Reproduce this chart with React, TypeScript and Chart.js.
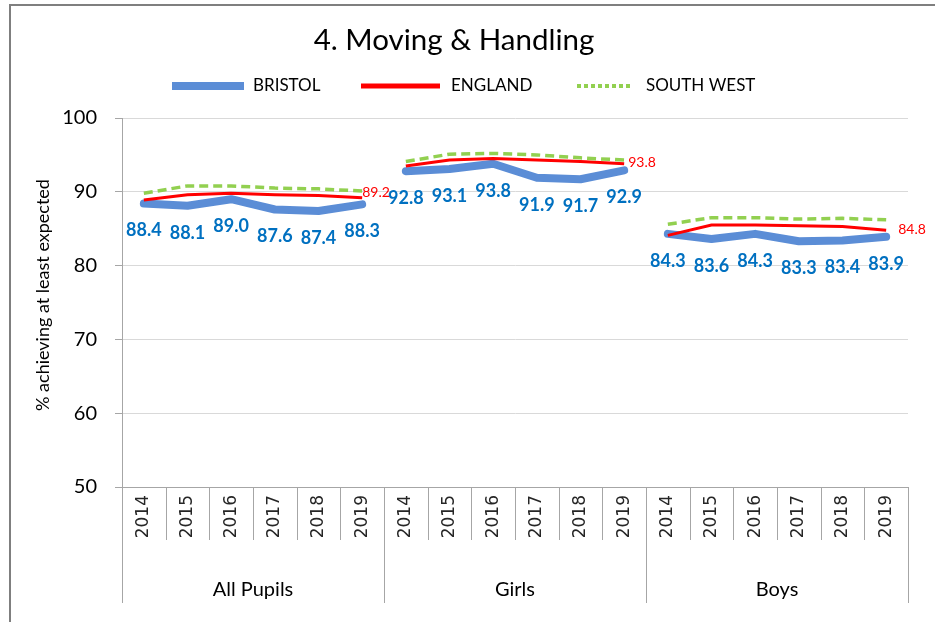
import React, { useEffect, useRef } from 'react';
import { Chart, registerables } from 'chart.js';

Chart.register(...registerables);

// ---- data ----
const GROUPS = ['All Pupils', 'Girls', 'Boys'];
const YEARS = ['2014', '2015', '2016', '2017', '2018', '2019'];

const BRISTOL_ALL = [88.4, 88.1, 89.0, 87.6, 87.4, 88.3];
const BRISTOL_GIRLS = [92.8, 93.1, 93.8, 91.9, 91.7, 92.9];
const BRISTOL_BOYS = [84.3, 83.6, 84.3, 83.3, 83.4, 83.9];

const ENGLAND_ALL = [88.9, 89.6, 89.8, 89.6, 89.5, 89.2];
const ENGLAND_GIRLS = [93.5, 94.3, 94.5, 94.3, 94.1, 93.8];
const ENGLAND_BOYS = [84.1, 85.5, 85.5, 85.4, 85.3, 84.8];

const SW_ALL = [89.8, 90.8, 90.8, 90.5, 90.4, 90.1];
const SW_GIRLS = [94.1, 95.1, 95.2, 95.0, 94.6, 94.3];
const SW_BOYS = [85.6, 86.5, 86.5, 86.3, 86.4, 86.2];

const SERIES_NAMES = ['BRISTOL', 'ENGLAND', 'SOUTH WEST'];
const Y_MIN = 50;
const Y_MAX = 100;
const Y_STEP = 10;

const TITLE = '4. Moving & Handling';
const Y_TITLE = '% achieving at least expected';

const CATEGORIES = GROUPS.flatMap(() => YEARS);
const GROUP_SIZE = YEARS.length;

const BLUE = '#5B8DD6';
const RED = '#FF0000';
const GREEN = '#92D050';
const LABEL_BLUE = '#0070C0';

const breakBetweenGroups = (c: any) =>
  c.p0DataIndex % GROUP_SIZE === GROUP_SIZE - 1 ? 'rgba(0,0,0,0)' : undefined;

const decorPlugin = {
  id: 'decor',
  beforeDraw(chart: any) {
    const ctx = chart.ctx;
    ctx.save();
    ctx.fillStyle = '#ffffff';
    ctx.fillRect(0, 0, chart.width, chart.height);
    ctx.fillStyle = '#7f7f7f';
    ctx.fillRect(9, 4, chart.width - 9, 2);
    ctx.fillRect(9, 4, 2, chart.height - 4);
    ctx.restore();
  },
  afterDraw(chart: any) {
    const ctx = chart.ctx;
    const x = chart.scales.x;
    const area = chart.chartArea;
    const n = CATEGORIES.length;
    const step = (x.right - x.left) / n;
    const boundary = (i: number) => x.left + i * step;

    ctx.save();
    // y axis title
    ctx.save();
    ctx.translate(43, area.top + 177);
    ctx.rotate(-Math.PI / 2);
    ctx.fillStyle = '#000000';
    ctx.font = '18px Lato';
    ctx.textAlign = 'center';
    ctx.textBaseline = 'middle';
    ctx.fillText(Y_TITLE, 0, 0);
    ctx.restore();

    // category ticks and group separators below the axis
    ctx.strokeStyle = '#a6a6a6';
    ctx.lineWidth = 1;
    for (let i = 0; i <= n; i++) {
      const bx = Math.round(boundary(i)) + 0.5;
      const isGroup = i % GROUP_SIZE === 0;
      ctx.beginPath();
      ctx.moveTo(bx, area.bottom);
      ctx.lineTo(bx, isGroup ? area.bottom + 116 : area.bottom + 53);
      ctx.stroke();
    }
    // group labels
    ctx.fillStyle = '#000000';
    ctx.font = '20px Lato';
    ctx.textAlign = 'center';
    ctx.textBaseline = 'middle';
    GROUPS.forEach((g, gi) => {
      const cx = (boundary(gi * GROUP_SIZE) + boundary((gi + 1) * GROUP_SIZE)) / 2;
      ctx.fillText(g, cx, area.bottom + 103);
    });

    // legend
    const legendY = 86;
    const items = [
      { ds: 0, x1: 172, x2: 244, tx: 253 },
      { ds: 1, x1: 361, x2: 440, tx: 451 },
      { ds: 2, x1: 577, x2: 633, tx: 646 },
    ];
    const legendWidths = [8, 5, 4];
    const legendDash = [[], [], [4, 3]];
    items.forEach((it, k) => {
      const ds = chart.data.datasets[it.ds];
      ctx.beginPath();
      ctx.strokeStyle = ds.borderColor;
      ctx.lineWidth = legendWidths[k];
      ctx.setLineDash(legendDash[k]);
      ctx.lineCap = 'butt';
      ctx.moveTo(it.x1, legendY);
      ctx.lineTo(it.x2, legendY);
      ctx.stroke();
      ctx.setLineDash([]);
      ctx.fillStyle = '#000000';
      ctx.font = '17px Lato';
      ctx.textAlign = 'left';
      ctx.textBaseline = 'middle';
      ctx.fillText(ds.label, it.tx, legendY);
    });

    // data labels for BRISTOL (below each point)
    const m0 = chart.getDatasetMeta(0);
    ctx.fillStyle = LABEL_BLUE;
    ctx.font = 'bold 18px Lato';
    ctx.textAlign = 'center';
    ctx.textBaseline = 'middle';
    m0.data.forEach((pt: any, i: number) => {
      const v = chart.data.datasets[0].data[i];
      ctx.fillText(v.toFixed(1), pt.x, pt.y + 27);
    });
    // ENGLAND value at the last year of each group
    const m1 = chart.getDatasetMeta(1);
    const offs = [
      [0, -5],
      [4, -1],
      [12, -1],
    ];
    ctx.fillStyle = RED;
    ctx.font = '14px Lato';
    ctx.textAlign = 'left';
    GROUPS.forEach((_, gi) => {
      const idx = gi * GROUP_SIZE + GROUP_SIZE - 1;
      const pt = m1.data[idx];
      const v = chart.data.datasets[1].data[idx];
      ctx.fillText(v.toFixed(1), pt.x + offs[gi][0], pt.y + offs[gi][1]);
    });
    ctx.restore();
  },
};

export default function App() {
  const ref = useRef<HTMLCanvasElement | null>(null);
  useEffect(() => {
    if (!ref.current) return;
    Chart.defaults.font.family = 'Lato';
    const chart = new Chart(ref.current, {
      type: 'line',
      data: {
        labels: CATEGORIES,
        datasets: [
          {
            label: SERIES_NAMES[0],
            data: [...BRISTOL_ALL, ...BRISTOL_GIRLS, ...BRISTOL_BOYS],
            borderColor: BLUE,
            backgroundColor: BLUE,
            borderWidth: 8,
            borderJoinStyle: 'round',
            borderCapStyle: 'round',
            pointRadius: 0,
            tension: 0,
            segment: { borderColor: breakBetweenGroups },
            order: 3,
          },
          {
            label: SERIES_NAMES[1],
            data: [...ENGLAND_ALL, ...ENGLAND_GIRLS, ...ENGLAND_BOYS],
            borderColor: RED,
            backgroundColor: RED,
            borderWidth: 3,
            pointRadius: 0,
            tension: 0,
            segment: { borderColor: breakBetweenGroups },
            order: 2,
          },
          {
            label: SERIES_NAMES[2],
            data: [...SW_ALL, ...SW_GIRLS, ...SW_BOYS],
            borderColor: GREEN,
            backgroundColor: GREEN,
            borderWidth: 3.5,
            borderDash: [9, 5],
            pointRadius: 0,
            tension: 0,
            segment: { borderColor: breakBetweenGroups },
            order: 1,
          },
        ],
      },
      options: {
        responsive: false,
        animation: false,
        devicePixelRatio: 1,
        layout: { padding: { left: 0, right: 27, top: 0, bottom: 0 } },
        plugins: {
          legend: { display: false },
          tooltip: { enabled: false },
          title: {
            display: true,
            text: TITLE,
            color: '#000000',
            font: { size: 29.5, weight: 'normal', family: 'Lato' },
            padding: { top: 23, bottom: 59.6 },
          },
        },
        scales: {
          x: {
            type: 'category',
            offset: true,
            grid: { display: false, drawTicks: false },
            border: { display: true, color: '#a6a6a6', width: 1 },
            ticks: {
              autoSkip: false,
              minRotation: 90,
              maxRotation: 90,
              padding: 8,
              color: '#262626',
              font: { family: 'DejaVu Sans', size: 17 },
            },
            afterFit: (s: any) => {
              s.height = 135;
            },
          },
          y: {
            min: Y_MIN,
            max: Y_MAX,
            ticks: {
              stepSize: Y_STEP,
              padding: 18,
              color: '#000000',
              font: { size: 20, family: 'Lato' },
            },
            grid: { color: '#d9d9d9', tickColor: '#a6a6a6', tickLength: 7 },
            border: { display: true, color: '#a6a6a6', width: 1 },
            afterFit: (s: any) => {
              s.width = 122;
            },
          },
        },
      },
      plugins: [decorPlugin],
    });
    return () => chart.destroy();
  }, []);

  return (
    <div style={{ position: 'fixed', left: 0, top: 0, width: 935, height: 622 }}>
      <canvas ref={ref} width={935} height={622} />
    </div>
  );
}
